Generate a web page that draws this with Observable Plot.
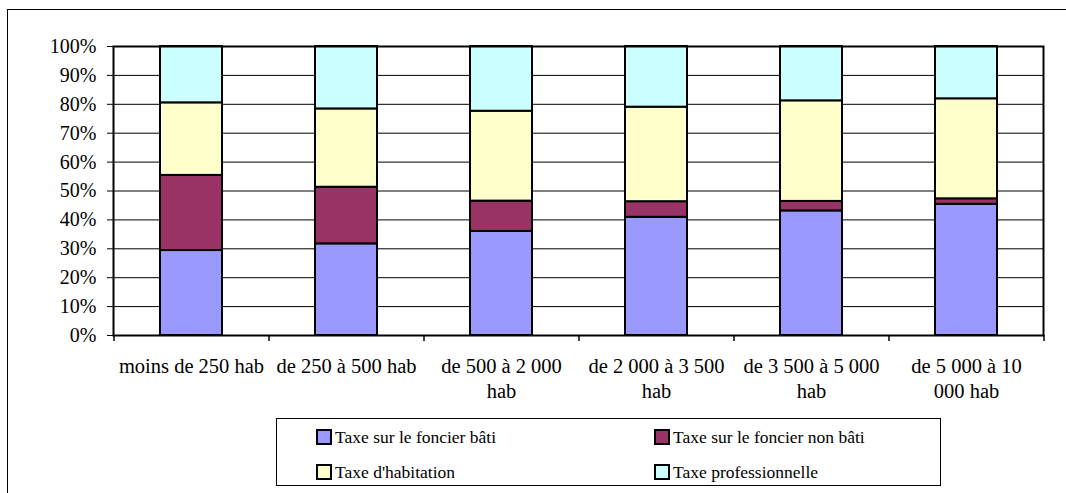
<!DOCTYPE html>
<html>
<head>
<meta charset="utf-8">
<script src="https://cdn.jsdelivr.net/npm/d3@7"></script>
<script src="https://cdn.jsdelivr.net/npm/@observablehq/plot@0.6"></script>
<style>
  html, body { margin: 0; padding: 0; background: #fff; overflow: hidden; }
  #wrap { position: relative; width: 1066px; height: 493px; overflow: hidden; font-family: "Liberation Serif", "Times New Roman", Times, "DejaVu Serif", serif; }
  #border { position: absolute; left: 7px; top: 9px; width: 1100px; height: 600px; border: 1.5px solid #000; }
  #chart { position: absolute; left: 0; top: 0; }
  #chart svg, #chart svg text { font-family: "Liberation Serif", "Times New Roman", Times, "DejaVu Serif", serif !important; }
  #legend { position: absolute; left: 276px; top: 418px; width: 665px; height: 68px; border: 1.5px solid #000; box-sizing: border-box; background: #fff; }
  .item { position: absolute; display: flex; align-items: center; font-size: 17.5px; color: #000; white-space: nowrap; font-family: "Liberation Serif", "Times New Roman", Times, "DejaVu Serif", serif; }
  .sw { width: 12px; height: 12px; border: 2px solid #000; margin-right: 3px; }
</style>
</head>
<body>
<div id="wrap">
  <div id="border"></div>
  <div id="chart"></div>
  <div id="legend"></div>
</div>
<script>
const categories = ["moins de 250 hab", "de 250 à 500 hab", "de 500 à 2 000 hab", "de 2 000 à 3 500 hab", "de 3 500 à 5 000 hab", "de 5 000 à 10 000 hab"];
const categoryLabels = ["moins de 250 hab", "de 250 à 500 hab", "de 500 à 2 000\nhab", "de 2 000 à 3 500\nhab", "de 3 500 à 5 000\nhab", "de 5 000 à 10\n000 hab"];
const series = ["Taxe sur le foncier bâti", "Taxe sur le foncier non bâti", "Taxe d'habitation", "Taxe professionnelle"];
const seriesColors = ["#9999FF", "#993366", "#FFFFCC", "#CCFFFF"];
const foncierBati    = [29.4, 31.7, 36.0, 40.9, 43.1, 45.4];
const foncierNonBati = [26.0, 19.6, 10.5, 5.4, 3.3, 1.9];
const habitation     = [25.1, 27.1, 31.1, 32.7, 34.8, 34.6];
const professionnelle= [19.5, 21.6, 22.4, 21.0, 18.8, 18.1];
const yTicks = [0, 10, 20, 30, 40, 50, 60, 70, 80, 90, 100];

const seriesValues = [foncierBati, foncierNonBati, habitation, professionnelle];
const data = [];
categories.forEach((c, i) => {
  series.forEach((s, j) => data.push({cat: c, series: s, value: seriesValues[j][i]}));
});

const W = 1066, H = 410, ML = 113, MR = 23, MT = 46, MB = 75;
const step = (W - ML - MR) / categories.length;
const FONT = "'Liberation Serif', 'Times New Roman', Times, 'DejaVu Serif', serif";

const chart = Plot.plot({
  width: W, height: H,
  marginLeft: ML, marginRight: MR, marginTop: MT, marginBottom: MB,
  style: {fontFamily: FONT, fontSize: "20px", color: "#000", background: "transparent"},
  x: {domain: categories, paddingInner: 0.6, paddingOuter: 0.3, label: null},
  y: {domain: [0, 100], label: null},
  color: {domain: series, range: seriesColors},
  marks: [
    Plot.gridY(yTicks, {stroke: "#000", strokeOpacity: 1, strokeWidth: 1}),
    Plot.barY(data, {x: "cat", y: "value", fill: "series", stroke: "#000", strokeWidth: 2}),
    Plot.frame({stroke: "#000", strokeWidth: 2}),
    Plot.axisY(yTicks, {tickSize: 6, tickPadding: 11, tickFormat: d => d + "%", fontSize: 20, stroke: "#000"}),
    Plot.axisX({tickSize: 0, tickPadding: 20, tickFormat: c => categoryLabels[categories.indexOf(c)], fontSize: 20.5, lineHeight: 1.22}),
    Plot.ruleX(categories, {x: d => d, y1: 0, y2: 0, insetBottom: -6, dx: -step / 2, stroke: "#000", strokeWidth: 1.5}),
    Plot.ruleX(categories.slice(-1), {x: d => d, y1: 0, y2: 0, insetBottom: -6, dx: step / 2, stroke: "#000", strokeWidth: 1.5})
  ]
});
document.getElementById("chart").appendChild(chart);

const legend = d3.select("#legend");
const pos = [[39, 18], [377, 18], [39, 53], [377, 53]];
series.forEach((s, i) => {
  const it = legend.append("div").attr("class", "item")
    .style("left", pos[i][0] + "px").style("top", (pos[i][1] - 12) + "px").style("height", "24px");
  it.append("div").attr("class", "sw").style("background", seriesColors[i]);
  it.append("span").text(s);
});
</script>
</body>
</html>
